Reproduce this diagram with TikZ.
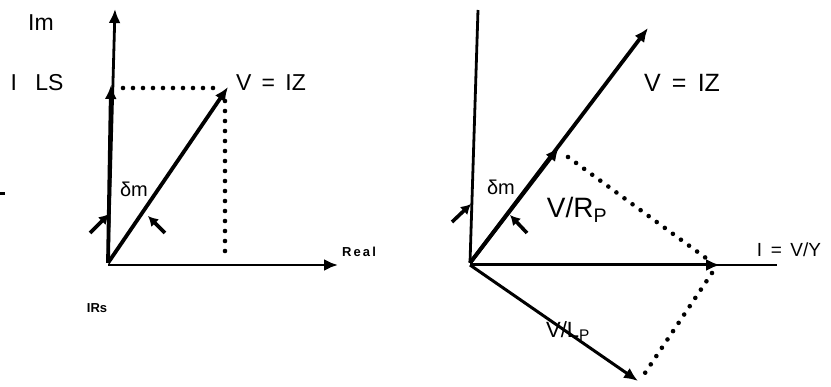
\documentclass[tikz,border=0pt]{standalone}
\usepackage{fontspec}
\setmainfont{Liberation Sans}
\usetikzlibrary{arrows.meta}

\tikzset{
  axis/.style={line width=2.8pt},
  phasor/.style={line width=3.8pt,-{Latex[length=14pt,width=12pt]}},
  thinphasor/.style={line width=3pt,-{Latex[length=14pt,width=12pt]}},
  guide/.style={line width=4.6pt,line cap=round,dash pattern=on 0pt off 10pt},
  pointer/.style={line width=3.6pt,-{Latex[length=10pt,width=11pt]}},
  lbl/.style={inner sep=0pt,font=\fontsize{23}{26}\selectfont},
}
\newcommand{\gap}{\hspace{0.45em}}

\begin{document}
\begin{tikzpicture}[x=1pt,y=-1pt,>=Latex]
\useasboundingbox (0,0) rectangle (831,387);

% left diagram: series circuit
\coordinate (oL) at (108,263);
\coordinate (oLx) at (108,265);
\coordinate (imtop) at (115,9);
\coordinate (realend) at (338,265);
\coordinate (ils) at (111,85);
\coordinate (vL) at (228,87);

% axes
\draw[axis,-{Latex[length=14pt,width=12pt]}] (oL) -- (imtop);
\draw[axis,-{Latex[length=14pt,width=12pt]}] (oLx) -- (realend);
\node[inner sep=0pt,font=\bfseries\fontsize{13}{15}\selectfont] (real) at (359,252) {R\,e\,a\,l};
\node[lbl] (im) at (41,23) {Im};

% I LS and V = IZ
\draw[phasor] (oL) -- (ils);
\draw[phasor] (oL) -- (vL);
\draw[guide] (123,88) -- (217,88);
\draw[guide] (225,101) -- (225,253);
\node[lbl] (ilsl) at (37,83) {I\hspace{0.8em}LS};
\node[lbl] (vlab) at (271,83) {V\gap=\gap IZ};

% angle delta_m
\node[inner sep=0pt,font=\fontsize{20}{22}\selectfont] (dL) at (134,189) {δm};
\draw[pointer] (90,233) -- (109,214);
\draw[pointer] (165,233) -- (148,216);

\node[inner sep=0pt,font=\bfseries\fontsize{13}{15}\selectfont] (irs) at (97,308) {IRs};
\draw[line width=3pt] (0,194) -- (5,194);

% right diagram: parallel circuit
\coordinate (oR) at (470,263);
\coordinate (oRx) at (470,265);
\coordinate (ytop) at (478,10);
\coordinate (xend) at (777,265);
\coordinate (vR) at (648,28);
\coordinate (vrp) at (559,147);
\coordinate (iv) at (720,265);
\coordinate (vlp) at (638,381);

% axes
\draw[axis] (oR) -- (ytop);
\draw[axis] (oRx) -- (xend);

% V = IZ and its components
\draw[phasor] (oR) -- (vR);
\draw[phasor] (oR) -- (vrp);
\draw[thinphasor] (oRx) -- (iv);
\draw[thinphasor] (oRx) -- (vlp);
\draw[guide] (568,157) -- (710,261);
\draw[guide] (712,273) -- (645,373);

\node[inner sep=0pt,font=\fontsize{25}{28}\selectfont] (vRl) at (682,83) {V\gap=\gap IZ};
\node[inner sep=0pt,font=\fontsize{28}{32}\selectfont] (vrpl) at (577,210) {V/R\textsubscript{P}};
\node[inner sep=0pt,font=\fontsize{22}{26}\selectfont] (vlpl) at (568,331) {V/L\textsubscript{P}};
\node[inner sep=0pt,font=\fontsize{19}{22}\selectfont] (ivl) at (789,250) {I\gap=\gap V/Y};

% angle delta_m
\node[inner sep=0pt,font=\fontsize{20}{22}\selectfont] (dR) at (501,187) {δm};
\draw[pointer] (452,222) -- (471,204);
\draw[pointer] (527,233) -- (510,215);

\end{tikzpicture}
\end{document}
